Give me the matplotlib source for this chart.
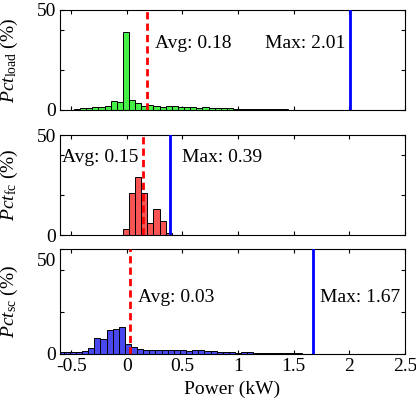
import numpy as np
import matplotlib
matplotlib.use('Agg')
from matplotlib import pyplot as plt
from matplotlib.transforms import ScaledTranslation

plt.rcParams['font.family'] = 'Liberation Serif'
plt.rcParams['mathtext.fontset'] = 'custom'
plt.rcParams['mathtext.rm'] = 'Liberation Serif'
plt.rcParams['mathtext.it'] = 'Liberation Serif:italic'

########################################
# data, percent per bin

bin_w = 0.055

# load: bins start at -0.585
load_start = -0.585
load_pct = [0.2, 0.2, 0.5, 0.8, 1.2, 1.3, 1.6, 2.0, 4.3, 4.0,
            39.0, 5.0, 3.5, 2.2, 2.3, 2.2, 1.6, 1.8, 1.8, 1.6,
            1.4, 1.3, 1.2, 1.3, 1.2, 1.0, 0.8, 0.8, 0.7, 0.7,
            0.6, 0.5, 0.5, 0.6, 0.4, 0.3, 0.3, 0.2, 0.2, 0.2,
            0.15, 0.1, 0.1, 0.05, 0.05, 0.05, 0.05, 0.05]
load_avg, load_max = 0.18, 2.01

# fc: bins start at -0.035
fc_start = -0.035
fc_pct = [2.8, 21.2, 28.8, 21.2, 5.8, 12.8, 7.0, 1.2]
fc_avg, fc_max = 0.15, 0.39

# sc: bins start at -0.622
sc_start = -0.622
sc_pct = [0.8, 0.8, 0.9, 1.0, 1.6, 2.7, 7.8, 7.0, 11.4, 11.7,
          13.0, 4.6, 3.5, 2.4, 1.7, 2.0, 2.1, 2.1, 2.0, 1.9,
          1.8, 1.6, 1.7, 1.8, 1.4, 1.2, 1.1, 1.0, 0.9, 0.7,
          0.8, 0.8, 0.7, 0.6, 0.5, 0.5, 0.4, 0.4, 0.3, 0.3,
          0.2, 0.2]
sc_avg, sc_max = 0.03, 1.67

x_ticks = [-0.5, 0, 0.5, 1, 1.5, 2, 2.5]
x_ticklabels = ['-0.5', '0', '0.5', '1', '1.5', '2', '2.5']

########################################
# figure

fig = plt.figure(figsize=(4.16, 4.09), dpi=100)
W, H = 416, 409
L, R = 60, 405

def make_ax(top, bottom):
    return fig.add_axes([L / W, (H - bottom) / H, (R - L) / W, (bottom - top) / H])

panels = [
    (make_ax(10, 110), load_start, load_pct, '#46f046', load_avg, load_max,
     r'$Pct_{\mathrm{load}}$ (%)', (0.25, 33.5), (1.24, 33.5)),
    (make_ax(135, 235), fc_start, fc_pct, '#f85454', fc_avg, fc_max,
     r'$Pct_{\mathrm{fc}}$ (%)', (-0.58, 39), (0.495, 39)),
    (make_ax(249, 354), sc_start, sc_pct, '#4848ee', sc_avg, sc_max,
     r'$Pct_{\mathrm{sc}}$ (%)', (0.1, 27), (1.74, 27)),
]

for i, (ax, start, pct, col, avg, mx, ylab, avg_pos, max_pos) in enumerate(panels):
    left = start + bin_w * np.arange(len(pct))
    ax.bar(left, pct, width=bin_w, align='edge', color=col,
           edgecolor='k', linewidth=0.7, zorder=2)
    ax.axvline(avg, color='r', ls='--', lw=2, dashes=(2.6, 1.5), zorder=3)
    ax.axvline(mx, color='b', lw=2, zorder=3)
    ax.text(avg_pos[0], avg_pos[1], 'Avg: %.2f' % avg, fontsize=14,
            va='center', ha='left', zorder=4)
    ax.text(max_pos[0], max_pos[1], 'Max: %.2f' % mx, fontsize=14,
            va='center', ha='left', zorder=4)

    ax.set_xlim(-0.6, 2.5)
    ax.set_ylim(0, 50)
    ax.set_xticks(x_ticks)
    ax.set_yticks([0, 20, 40, 50])
    ax.set_yticklabels(['0', '', '', '50'])
    ax.tick_params(direction='in', top=True, right=True, length=3,
                   width=0.8, labelsize=14, pad=3)
    if i < 2:
        ax.set_xticklabels([])
    else:
        ax.set_xticklabels(x_ticklabels)
        ax.set_xlabel('Power (kW)', fontsize=14, labelpad=4)
        # the "50" label sits a bit lower in the bottom panel
        lab = ax.get_yticklabels()[-1]
        lab.set_transform(lab.get_transform() +
                          ScaledTranslation(0, -0.11, fig.dpi_scale_trans))
    ax.set_ylabel(ylab, fontsize=14)
    ax.yaxis.set_label_coords(-0.115, 0.5)
    for s in ax.spines.values():
        s.set_linewidth(0.8)

plt.savefig('out.png', dpi=100)
